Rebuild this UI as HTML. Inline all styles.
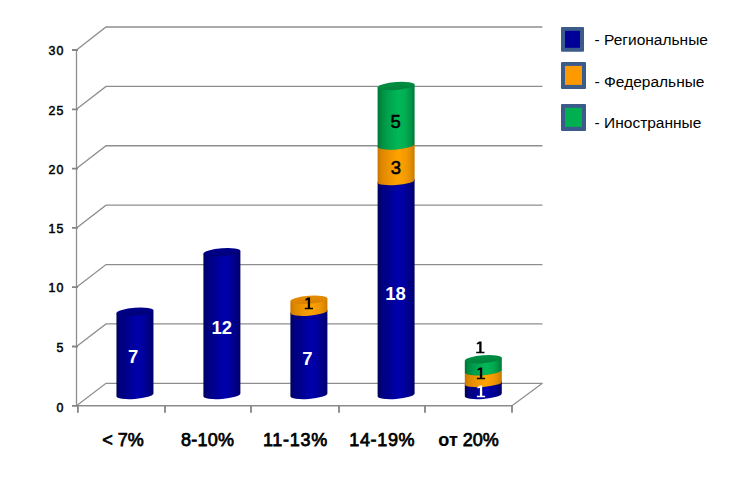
<!DOCTYPE html><html><head><meta charset="utf-8"><style>html,body{margin:0;padding:0;background:#fff;width:753px;height:482px;overflow:hidden}svg{display:block}text{font-family:"Liberation Sans",sans-serif}</style></head><body>
<svg width="753" height="482" viewBox="0 0 753 482">
<defs>
<linearGradient id="bb" gradientUnits="objectBoundingBox" x1="0" y1="0" x2="1" y2="0"><stop offset="0" stop-color="#00005c"/><stop offset="0.1" stop-color="#00007c"/><stop offset="0.3" stop-color="#000090"/><stop offset="0.57" stop-color="#0000ae"/><stop offset="0.78" stop-color="#000096"/><stop offset="0.92" stop-color="#00007c"/><stop offset="1" stop-color="#000066"/></linearGradient>
<linearGradient id="bo" gradientUnits="objectBoundingBox" x1="0" y1="0" x2="1" y2="0"><stop offset="0" stop-color="#c87400"/><stop offset="0.1" stop-color="#dc8600"/><stop offset="0.3" stop-color="#ee9400"/><stop offset="0.57" stop-color="#ffa200"/><stop offset="0.78" stop-color="#f29800"/><stop offset="0.92" stop-color="#dc8800"/><stop offset="1" stop-color="#c67800"/></linearGradient>
<linearGradient id="bg" gradientUnits="objectBoundingBox" x1="0" y1="0" x2="1" y2="0"><stop offset="0" stop-color="#007434"/><stop offset="0.1" stop-color="#008c42"/><stop offset="0.3" stop-color="#00a44e"/><stop offset="0.57" stop-color="#00b858"/><stop offset="0.78" stop-color="#00aa50"/><stop offset="0.92" stop-color="#008e44"/><stop offset="1" stop-color="#007838"/></linearGradient>
<linearGradient id="tb" x1="0" y1="0" x2="0" y2="1"><stop offset="0" stop-color="#00008c"/><stop offset="1" stop-color="#000078"/></linearGradient>
<linearGradient id="to" x1="0" y1="0" x2="0" y2="1"><stop offset="0" stop-color="#e68c00"/><stop offset="1" stop-color="#d98200"/></linearGradient>
<linearGradient id="tg" x1="0" y1="0" x2="0" y2="1"><stop offset="0" stop-color="#009044"/><stop offset="1" stop-color="#00823c"/></linearGradient>
</defs>
<path d="M76.5 405.80L106.0 383.30L542.4 383.30M76.5 346.50L106.0 323.92L542.4 323.92M76.5 287.20L106.0 264.53L542.4 264.53M76.5 227.90L106.0 205.15L542.4 205.15M76.5 168.60L106.0 145.77L542.4 145.77M76.5 109.30L106.0 86.38L542.4 86.38M76.5 50.00L106.0 27.00L542.4 27.00M76.5 50.0V405.8" stroke="#8e8e8e" stroke-width="1.3" fill="none"/>
<path d="M76.5 405.8H512.3" stroke="#8c8c8c" stroke-width="1.6" fill="none"/>
<path d="M511.99999999999994 405.8L542.4 383.30" stroke="#8e8e8e" stroke-width="1.25" fill="none"/>
<path d="M72 405.80H78M72 346.50H78M72 287.20H78M72 227.90H78M72 168.60H78M72 109.30H78M72 50.00H78M77.90 405.8V412.8M165.00 405.8V412.8M251.00 405.8V412.8M339.00 405.8V412.8M425.00 405.8V412.8M512.00 405.8V412.8" stroke="#858585" stroke-width="1.8" fill="none"/>
<text x="64.4" y="411.70" text-anchor="end" font-size="12.4" letter-spacing="1.0" fill="#000" stroke="#000" stroke-width="0.5">0</text>
<text x="64.4" y="352.40" text-anchor="end" font-size="12.4" letter-spacing="1.0" fill="#000" stroke="#000" stroke-width="0.5">5</text>
<text x="64.4" y="292.40" text-anchor="end" font-size="12.4" letter-spacing="1.0" fill="#000" stroke="#000" stroke-width="0.5">10</text>
<text x="64.4" y="233.10" text-anchor="end" font-size="12.4" letter-spacing="1.0" fill="#000" stroke="#000" stroke-width="0.5">15</text>
<text x="64.4" y="173.80" text-anchor="end" font-size="12.4" letter-spacing="1.0" fill="#000" stroke="#000" stroke-width="0.5">20</text>
<text x="64.4" y="114.50" text-anchor="end" font-size="12.4" letter-spacing="1.0" fill="#000" stroke="#000" stroke-width="0.5">25</text>
<text x="64.4" y="55.20" text-anchor="end" font-size="12.4" letter-spacing="1.0" fill="#000" stroke="#000" stroke-width="0.5">30</text>
<g transform="translate(134.95,0) skewY(-4.289)">
<path d="M-18.5 311.73V394.90A18.5 4.0 0 0 0 18.5 394.90V311.73Z" fill="url(#bb)"/>
<ellipse cx="0" cy="311.73" rx="18.5" ry="4.0" fill="url(#tb)"/>
</g>
<text x="133.25" y="362.60" text-anchor="middle" font-size="18.5" font-weight="bold" fill="#fff">7</text>
<g transform="translate(221.90,0) skewY(-4.289)">
<path d="M-18.5 252.33V394.90A18.5 4.0 0 0 0 18.5 394.90V252.33Z" fill="url(#bb)"/>
<ellipse cx="0" cy="252.33" rx="18.5" ry="4.0" fill="url(#tb)"/>
</g>
<text x="221.80" y="333.80" text-anchor="middle" font-size="18.5" font-weight="bold" fill="#fff">12</text>
<g transform="translate(308.90,0) skewY(-4.289)">
<path d="M-18.5 311.73V394.90A18.5 4.0 0 0 0 18.5 394.90V311.73Z" fill="url(#bb)"/>
<ellipse cx="0" cy="311.73" rx="18.5" ry="4.0" fill="url(#tb)"/>
<path d="M-18.5 299.85V311.73A18.5 4.0 0 0 0 18.5 311.73V299.85Z" fill="url(#bo)"/>
<ellipse cx="0" cy="299.85" rx="18.5" ry="4.0" fill="url(#to)"/>
</g>
<text x="307.30" y="365.00" text-anchor="middle" font-size="18.5" font-weight="bold" fill="#fff">7</text>
<path transform="translate(305.10,297.55)" d="M2.6 0H5V10.2H7.9V11.8H-0.3V10.2H2.7V2.3L0.5 3.1L0.1 1.7Z" fill="#000"/>
<g transform="translate(396.10,0) skewY(-4.289)">
<path d="M-18.5 181.04V394.90A18.5 4.0 0 0 0 18.5 394.90V181.04Z" fill="url(#bb)"/>
<ellipse cx="0" cy="181.04" rx="18.5" ry="4.0" fill="url(#tb)"/>
<path d="M-18.5 145.40V181.04A18.5 4.0 0 0 0 18.5 181.04V145.40Z" fill="url(#bo)"/>
<ellipse cx="0" cy="145.40" rx="18.5" ry="4.0" fill="url(#to)"/>
<path d="M-18.5 85.99V145.40A18.5 4.0 0 0 0 18.5 145.40V85.99Z" fill="url(#bg)"/>
<ellipse cx="0" cy="85.99" rx="18.5" ry="4.0" fill="url(#tg)"/>
</g>
<text x="395.60" y="299.70" text-anchor="middle" font-size="18.5" font-weight="bold" fill="#fff">18</text>
<text x="395.90" y="174.40" text-anchor="middle" font-size="18.5" fill="#000" stroke="#000" stroke-width="0.55">3</text>
<text x="395.70" y="127.50" text-anchor="middle" font-size="18.5" fill="#000" stroke="#000" stroke-width="0.55">5</text>
<g transform="translate(483.30,0) skewY(-4.289)">
<path d="M-18.5 383.02V394.90A18.5 4.0 0 0 0 18.5 394.90V383.02Z" fill="url(#bb)"/>
<ellipse cx="0" cy="383.02" rx="18.5" ry="4.0" fill="url(#tb)"/>
<path d="M-18.5 371.14V383.02A18.5 4.0 0 0 0 18.5 383.02V371.14Z" fill="url(#bo)"/>
<ellipse cx="0" cy="371.14" rx="18.5" ry="4.0" fill="url(#to)"/>
<path d="M-18.5 359.26V371.14A18.5 4.0 0 0 0 18.5 371.14V359.26Z" fill="url(#bg)"/>
<ellipse cx="0" cy="359.26" rx="18.5" ry="4.0" fill="url(#tg)"/>
</g>
<path transform="translate(477.20,385.45)" d="M2.6 0H5V10.2H7.9V11.8H-0.3V10.2H2.7V2.3L0.5 3.1L0.1 1.7Z" fill="#fff"/>
<path transform="translate(477.20,367.50)" d="M2.6 0H5V10.2H7.9V11.8H-0.3V10.2H2.7V2.3L0.5 3.1L0.1 1.7Z" fill="#000"/>
<path transform="translate(476.55,341.50)" d="M2.6 0H5V10.2H7.9V11.8H-0.3V10.2H2.7V2.3L0.5 3.1L0.1 1.7Z" fill="#000"/>
<text x="122.90" y="445.6" text-anchor="middle" font-size="18" letter-spacing="0" fill="#000" stroke="#000" stroke-width="0.75">&lt; 7%</text>
<text x="207.52" y="445.6" text-anchor="middle" font-size="18" letter-spacing="0.25" fill="#000" stroke="#000" stroke-width="0.75">8-10%</text>
<text x="295.40" y="445.6" text-anchor="middle" font-size="18" letter-spacing="0.7" fill="#000" stroke="#000" stroke-width="0.75">11-13%</text>
<text x="382.27" y="445.6" text-anchor="middle" font-size="18" letter-spacing="0.65" fill="#000" stroke="#000" stroke-width="0.75">14-19%</text>
<text x="468.55" y="445.6" text-anchor="middle" font-size="18" letter-spacing="0" fill="#000" stroke="#000" stroke-width="0.75"><tspan font-weight="bold" stroke-width="0.2">от</tspan> 20%</text>
<rect x="561" y="27.0" width="23" height="24.80" rx="1" fill="#3b5b8b"/>
<rect x="565" y="30.80" width="15" height="17.00" fill="#000099"/>
<text x="594.6" y="44.7" font-size="15.5" fill="#000">- Региональные</text>
<rect x="561" y="62.1" width="25" height="26.80" rx="1" fill="#3b5b8b"/>
<rect x="565" y="65.90" width="17" height="19.00" fill="#ff9900"/>
<text x="594.6" y="87.3" font-size="15.5" fill="#000">- Федеральные</text>
<rect x="561" y="104" width="25" height="26.90" rx="1" fill="#3b5b8b"/>
<rect x="565" y="107.80" width="17" height="19.10" fill="#00b050"/>
<text x="594.6" y="127.5" font-size="15.5" fill="#000">- Иностранные</text>
</svg></body></html>
